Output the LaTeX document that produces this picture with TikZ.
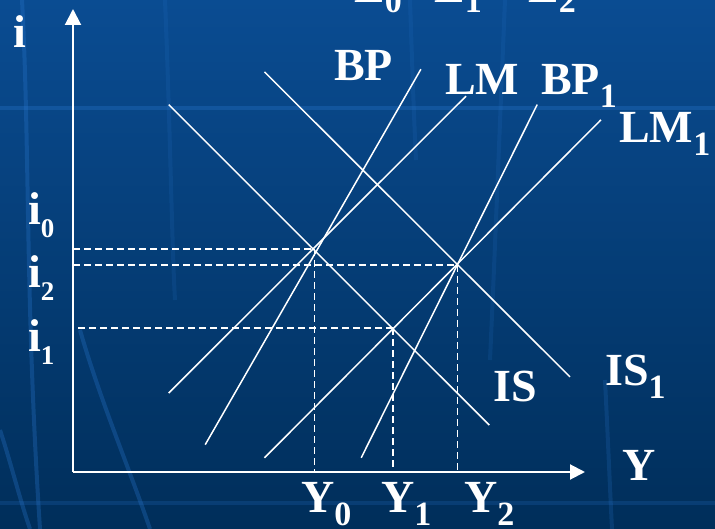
\documentclass[tikz,border=0pt]{standalone}
\usepackage{fontspec}
\setmainfont{Liberation Serif}
\usetikzlibrary{arrows.meta}
\definecolor{bgtop}{HTML}{0A4C92}
\definecolor{bgbot}{HTML}{002E5A}
\definecolor{streak}{HTML}{2A78D0}
\newcommand\subs[2][34]{\raisebox{-13pt}{\fontsize{#1}{#1}\selectfont #2}}
\newcommand\esubs[1]{\raisebox{-10pt}{\fontsize{34}{34}\selectfont #1}}
\tikzset{
  lbl/.style={font=\fontsize{46}{50}\selectfont\bfseries, text=white, inner sep=0pt, anchor=base west},
  curve/.style={draw=white, line width=1.5pt},
  axis/.style={draw=white, line width=2pt},
  guide/.style={draw=white, line width=1.5pt, dash pattern=on 7pt off 4pt},
  glow/.style={draw=streak, line width=4pt, opacity=0.3}
}
\begin{document}
\begin{tikzpicture}[x=1pt,y=-1pt]
\useasboundingbox (0,0) rectangle (715,529);
\begin{scope}
\clip (0,0) rectangle (715,529);
\fill[top color=bgtop, bottom color=bgbot] (0,0) rectangle (715,529);
% background streaks
\draw[glow] (0,108) -- (715,108);
\draw[glow, opacity=0.2] (0,503) -- (715,503);
\draw[glow] (22,0) .. controls (30,150) and (25,300) .. (40,529);
\draw[glow, opacity=0.15] (165,0) .. controls (170,120) and (172,250) .. (175,300);
\draw[glow] (80,330) .. controls (100,400) and (130,470) .. (150,529);
\draw[glow] (0,430) .. controls (10,460) and (20,500) .. (30,529);
\draw[glow, opacity=0.2] (605,380) .. controls (608,440) and (610,490) .. (612,529);
\draw[glow, opacity=0.15] (505,0) .. controls (500,120) and (495,250) .. (490,360);
\draw[glow, opacity=0.15] (410,0) .. controls (412,60) and (414,120) .. (416,160);
% cut-off labels at top
\node[lbl] (E0) at (354,3) {E\esubs{0}};
\node[lbl] (E1) at (434,3) {E\esubs{1}};
\node[lbl] (E2) at (528,3) {E\esubs{2}};
\end{scope}

% axes
\coordinate (O) at (73,472);
\coordinate (ytop) at (73,9);
\coordinate (xend) at (585,472);
\draw[axis, -{Triangle[width=16pt,length=16pt]}] (O) -- (ytop);
\draw[axis, -{Triangle[width=15pt,length=15pt]}] (O) -- (xend);

% equilibrium points
\coordinate (e0) at (314.5,249);
\coordinate (e2) at (457.4,265);
\coordinate (e1) at (393,328);

% curves
\coordinate (IStop) at (168.7,104.6);  \coordinate (ISbot) at (489.3,425.1);
\coordinate (IS1top) at (264.5,71.9);  \coordinate (IS1bot) at (570,376.9);
\coordinate (BPtop) at (420.9,69.2);   \coordinate (BPbot) at (205.2,444.7);
\coordinate (LMtop) at (466,96.2);     \coordinate (LMbot) at (168.7,393);
\coordinate (BP1top) at (537.2,104.6); \coordinate (BP1bot) at (361.2,457.8);
\coordinate (LM1top) at (601,119.8);   \coordinate (LM1bot) at (264.5,457.8);
\draw[curve] (IStop) -- (ISbot);
\draw[curve] (IS1top) -- (IS1bot);
\draw[curve] (BPtop) -- (BPbot);
\draw[curve] (LMtop) -- (LMbot);
\draw[curve] (BP1top) -- (BP1bot);
\draw[curve] (LM1top) -- (LM1bot);

% guides
\coordinate (ai0) at (73,249);
\coordinate (ai2) at (73,265);
\coordinate (ai1) at (78,328);
\coordinate (ay0) at (314.5,472);
\coordinate (ay1) at (393,472);
\coordinate (ay2) at (457.4,472);
\draw[guide] (ai0) -- (e0);
\draw[guide] (ai2) -- (e2);
\draw[guide] (ai1) -- (e1);
\draw[guide] (e0) -- (ay0);
\draw[guide] (e1) -- (ay1);
\draw[guide] (e2) -- (ay2);

% labels
\node[lbl] (li) at (13,48) {i};
\node[lbl] (lY) at (622,480) {Y};
\node[lbl] (li0) at (28,225) {i\subs[27]{0}};
\node[lbl] (li2) at (28,288) {i\subs[27]{2}};
\node[lbl] (li1) at (28,352) {i\subs[27]{1}};
\node[lbl] (lY0) at (301,512) {Y\subs{0}};
\node[lbl] (lY1) at (381,512) {Y\subs{1}};
\node[lbl] (lY2) at (464,512) {Y\subs{2}};
\node[lbl] (lBP) at (334,81) {BP};
\node[lbl] (lLM) at (445,95) {LM};
\node[lbl] (lBP1) at (541,95) {BP\subs{1}};
\node[lbl] (lLM1) at (619,143) {LM\subs{1}};
\node[lbl] (lIS) at (493,401) {IS};
\node[lbl] (lIS1) at (605,385) {IS\subs{1}};
\end{tikzpicture}
\end{document}
